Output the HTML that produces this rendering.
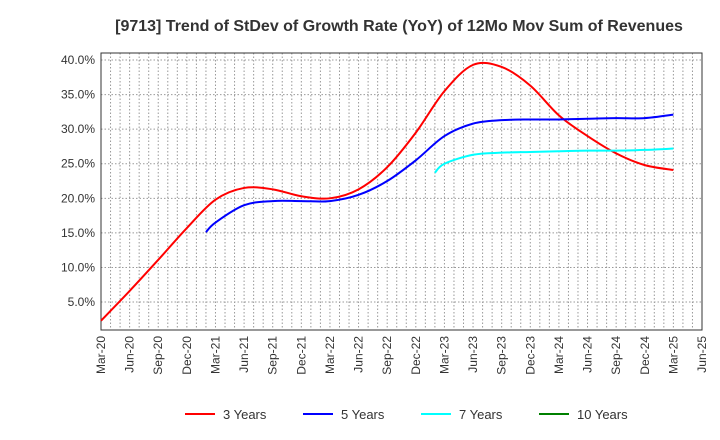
<!DOCTYPE html>
<html><head><meta charset="utf-8"><style>
body{margin:0;background:#fff;}
svg{display:block;font-family:"Liberation Sans",sans-serif;}
</style></head><body>
<svg id="c" width="720" height="440">
<text x="399" y="31" text-anchor="middle" font-size="16" font-weight="bold" fill="#333">[9713]  Trend of StDev of Growth Rate (YoY) of 12Mo Mov Sum of Revenues</text>
<g id="grid"></g><g id="axes"></g><g id="series"></g><g id="legend"></g>
</svg>
<script>
const xTickLabels=["Mar-20","Jun-20","Sep-20","Dec-20","Mar-21","Jun-21","Sep-21","Dec-21","Mar-22","Jun-22","Sep-22","Dec-22","Mar-23","Jun-23","Sep-23","Dec-23","Mar-24","Jun-24","Sep-24","Dec-24","Mar-25","Jun-25"];
const yTicks=[5,10,15,20,25,30,35,40];
// month index from Mar-20
const m3=[0,3,6,9,12,15,18,21,24,27,30,33,36,39,42,45,48,51,54,57,60];
const v3=[2.3,6.6,11.1,15.7,19.8,21.5,21.3,20.3,20.0,21.3,24.5,29.5,35.5,39.3,39.0,36.3,32.0,29.0,26.5,24.8,24.1];
const m5=[11,12,15,18,21,24,27,30,33,36,39,42,45,48,51,54,57,60];
const v5=[15.1,16.5,19.0,19.6,19.6,19.6,20.5,22.5,25.5,29.0,30.8,31.3,31.4,31.4,31.5,31.6,31.6,32.1];
const m7=[35,36,39,42,45,48,51,54,57,60];
const v7=[23.7,25.0,26.3,26.6,26.7,26.8,26.9,26.9,27.0,27.2];
const m10=[];const v10=[];
const L=101,R=702,T=53,B=330;
const X=m=>L+m*(R-L)/63;
const Y=v=>336.6-v*(302-60)/35;
const NS="http://www.w3.org/2000/svg";
function mk(t,a,p){const e=document.createElementNS(NS,t);for(const k in a)e.setAttribute(k,a[k]);p.appendChild(e);return e;}
const g=document.getElementById('grid'),ax=document.getElementById('axes'),s=document.getElementById('series'),lg=document.getElementById('legend');
for(let m=1;m<63;m++){const l=mk('line',{x1:X(m),x2:X(m),y1:T,y2:B,stroke:'#999','stroke-dasharray':'1.5,2','stroke-width':1},g);}
yTicks.forEach(v=>{const l=mk('line',{x1:L,x2:R,y1:Y(v),y2:Y(v),stroke:'#999','stroke-dasharray':'1.5,2'},g);
const t=mk('text',{x:L-6,y:Y(v)+4,'text-anchor':'end','font-size':12,fill:'#333'},ax);t.textContent=v.toFixed(1)+'%';});
const fr=mk('rect',{x:L,y:T,width:R-L,height:B-T,fill:'none',stroke:'#333'},ax);
xTickLabels.forEach((lab,i)=>{const x=X(i*3);const t=mk('text',{x:x+4,y:B+6,'text-anchor':'end','font-size':12,fill:'#333',transform:`rotate(-90 ${x+4} ${B+6})`},ax);t.textContent=lab;});
function path(ms,vs){const p=ms.map((m,i)=>[X(m),Y(vs[i])]);if(!p.length)return'';let d=`M${p[0][0]},${p[0][1]}`;
for(let i=0;i<p.length-1;i++){const p0=p[Math.max(0,i-1)],p1=p[i],p2=p[i+1],p3=p[Math.min(p.length-1,i+2)];
d+=` C${p1[0]+(p2[0]-p0[0])/6},${p1[1]+(p2[1]-p0[1])/6} ${p2[0]-(p3[0]-p1[0])/6},${p2[1]-(p3[1]-p1[1])/6} ${p2[0]},${p2[1]}`;}return d;}
const ser=[[m3,v3,'#ff0000','3 Years','series-3-years'],[m5,v5,'#0000ff','5 Years','series-5-years'],[m7,v7,'#00ffff','7 Years','series-7-years'],[m10,v10,'#008000','10 Years','series-10-years']];
const lx=[185,303,421,539];
ser.forEach((sr,i)=>{if(sr[0].length){const e=mk('path',{d:path(sr[0],sr[1]),fill:'none',stroke:sr[2],'stroke-width':2},s);}
const l=mk('line',{x1:lx[i],x2:lx[i]+30,y1:414,y2:414,stroke:sr[2],'stroke-width':2},lg);
const t=mk('text',{x:lx[i]+38,y:419,'font-size':13,fill:'#333'},lg);t.textContent=sr[3];});
</script>
</body></html>
